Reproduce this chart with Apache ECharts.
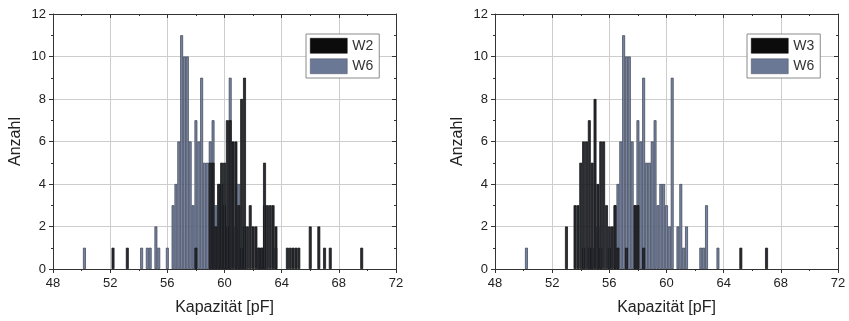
<!DOCTYPE html>
<html>
<head>
<meta charset="utf-8">
<script src="https://cdn.jsdelivr.net/npm/echarts@6/dist/echarts.min.js"></script>
<style>
  html, body { margin: 0; padding: 0; background: #ffffff; }
  #chart { width: 849px; height: 321px; }
</style>
</head>
<body>
<div id="chart"></div>
<script>
// Capacitance histograms, 0.2 pF bins; each value below is a bin centre in pF.
const xTicks = [48, 52, 56, 60, 64, 68, 72];
const yTicks = [0, 2, 4, 6, 8, 10, 12];
const binWidth = 0.2;

// Wafer W6 (shown in both panels)
const binsW6 = [50.2, 54.2, 54.6, 54.8, 55.2, 55.4, 56.0, 56.4, 56.6, 56.8, 57.0, 57.2, 57.4, 57.6, 57.8, 58.0, 58.2, 58.4, 58.6, 58.8, 59.0, 59.2, 59.4, 59.6, 59.8, 60.0, 60.2, 60.4, 60.8, 61.0, 61.2, 61.4, 62.4, 62.6, 62.8, 63.6];
const countsW6 = [1, 1, 1, 1, 2, 1, 1, 3, 4, 6, 11, 10, 10, 6, 3, 7, 6, 9, 5, 5, 6, 7, 3, 4, 4, 3, 2, 9, 2, 4, 1, 2, 1, 1, 3, 1];

// Wafer W2 (left panel)
const binsW2 = [52.2, 53.2, 58.0, 59.0, 59.2, 59.4, 59.6, 59.8, 60.0, 60.2, 60.4, 60.6, 60.8, 61.0, 61.2, 61.4, 61.6, 61.8, 62.0, 62.2, 62.4, 62.6, 62.8, 63.0, 63.2, 63.4, 63.6, 64.4, 64.6, 64.8, 65.0, 65.2, 66.0, 66.6, 67.0, 67.4, 69.6];
const countsW2 = [1, 1, 1, 5, 5, 2, 4, 5, 5, 7, 7, 6, 6, 3, 8, 9, 2, 3, 2, 2, 1, 1, 5, 3, 3, 3, 2, 1, 1, 1, 1, 1, 2, 2, 1, 1, 1];

// Wafer W3 (right panel)
const binsW3 = [53.0, 53.6, 53.8, 54.0, 54.2, 54.4, 54.6, 54.8, 55.0, 55.2, 55.4, 55.6, 55.8, 56.0, 56.2, 56.4, 56.6, 57.2, 57.8, 58.0, 58.4, 65.2, 67.0];
const countsW3 = [2, 3, 3, 5, 6, 6, 7, 5, 8, 4, 6, 6, 3, 2, 2, 3, 1, 1, 3, 3, 1, 1, 1];

const pairs = (bins, counts) => bins.map((b, i) => [b, counts[i]]);

const FONT = 'Liberation Sans, Arial, Helvetica, sans-serif';
const INK = '#222222';
const FRAME = '#333333';

const panels = [
  { left: 53, top: 14, width: 343, height: 256 },
  { left: 495, top: 14, width: 343, height: 255 }
];

const xMin = xTicks[0], xMax = xTicks[xTicks.length - 1], xStep = xTicks[1] - xTicks[0];
const yMin = yTicks[0], yMax = yTicks[yTicks.length - 1], yStep = yTicks[1] - yTicks[0];

function bottomAxis(g) {
  return {
    type: 'value', gridIndex: g, position: 'bottom',
    min: xMin, max: xMax, interval: xStep,
    axisLine: { show: true, onZero: false, lineStyle: { color: FRAME, width: 1 } },
    axisTick: { show: true, inside: false, length: 4, lineStyle: { color: FRAME } },
    minorTick: { show: true, splitNumber: 2, length: 2, lineStyle: { color: FRAME } },
    axisLabel: { fontSize: 13, color: INK, margin: 8, fontFamily: FONT },
    splitLine: { show: true, lineStyle: { color: '#cdcdcd', width: 1 } },
    name: 'Kapazität [pF]', nameLocation: 'middle', nameGap: 31,
    nameTextStyle: { fontSize: 16, color: INK, fontFamily: FONT }
  };
}
function topAxis(g) {
  return {
    type: 'value', gridIndex: g, position: 'top',
    min: xMin, max: xMax, interval: xStep,
    axisLine: { show: true, onZero: false, lineStyle: { color: FRAME, width: 1 } },
    axisTick: { show: true, inside: true, length: 4, lineStyle: { color: FRAME } },
    minorTick: { show: true, splitNumber: 2, length: 2, lineStyle: { color: FRAME } },
    axisLabel: { show: false },
    splitLine: { show: false }
  };
}
function leftAxis(g) {
  return {
    type: 'value', gridIndex: g, position: 'left',
    min: yMin, max: yMax, interval: yStep,
    axisLine: { show: true, onZero: false, lineStyle: { color: FRAME, width: 1 } },
    axisTick: { show: true, inside: false, length: 4, lineStyle: { color: FRAME } },
    minorTick: { show: true, splitNumber: 2, length: 2, lineStyle: { color: FRAME } },
    axisLabel: { fontSize: 13, color: INK, margin: 7, fontFamily: FONT },
    splitLine: { show: true, lineStyle: { color: '#cdcdcd', width: 1 } },
    name: 'Anzahl', nameLocation: 'middle', nameGap: 29,
    nameTextStyle: { fontSize: 16, color: INK, fontFamily: FONT }
  };
}
function rightAxis(g) {
  return {
    type: 'value', gridIndex: g, position: 'right',
    min: yMin, max: yMax, interval: yStep,
    axisLine: { show: true, onZero: false, lineStyle: { color: FRAME, width: 1 } },
    axisTick: { show: true, inside: true, length: 4, lineStyle: { color: FRAME } },
    minorTick: { show: true, splitNumber: 2, length: 2, lineStyle: { color: FRAME } },
    axisLabel: { show: false },
    splitLine: { show: false }
  };
}

// bar width in pixels for one 0.2 pF bin
const barPx = panels[0].width / (xMax - xMin) * binWidth;

const styleW6 = { color: '#7784a1', borderColor: '#3a4152', borderWidth: 0.7 };
const styleDark = { color: '#2a2d34', borderColor: '#0b0b0b', borderWidth: 0.7 };

function barSeries(name, g, data, style) {
  return {
    name, type: 'bar', xAxisIndex: g, yAxisIndex: g,
    data, barWidth: barPx, barGap: '-100%',
    itemStyle: style, animation: false,
    emphasis: { disabled: true }
  };
}

const legendSwatchDark = { color: '#0c0c0c', borderColor: '#000000', borderWidth: 0.5 };
const legendSwatchW6 = { color: '#6b7895', borderColor: '#4a5264', borderWidth: 0.5 };

function legendBox(darkName, left) {
  return {
    data: [
      { name: darkName, itemStyle: legendSwatchDark },
      { name: 'W6', itemStyle: legendSwatchW6 }
    ],
    orient: 'vertical', left, top: 34,
    icon: 'rect', itemWidth: 37, itemHeight: 15, itemGap: 5,
    padding: [4, 6, 4, 4],
    borderColor: '#8a8a8a', borderWidth: 1, backgroundColor: '#ffffff',
    textStyle: { fontSize: 14, color: '#333333', fontFamily: FONT },
    selectedMode: false
  };
}

const chart = echarts.init(document.getElementById('chart'), null, { renderer: 'canvas' });
chart.setOption({
  animation: false,
  backgroundColor: '#ffffff',
  textStyle: { fontFamily: FONT },
  grid: panels,
  xAxis: [bottomAxis(0), bottomAxis(1), topAxis(0), topAxis(1)],
  yAxis: [leftAxis(0), leftAxis(1), rightAxis(0), rightAxis(1)],
  legend: [legendBox('W2', 306), legendBox('W3', 747)],
  series: [
    barSeries('W6', 0, pairs(binsW6, countsW6), styleW6),
    barSeries('W2', 0, pairs(binsW2, countsW2), styleDark),
    barSeries('W6', 1, pairs(binsW6, countsW6), styleW6),
    barSeries('W3', 1, pairs(binsW3, countsW3), styleDark)
  ]
});
</script>
</body>
</html>
